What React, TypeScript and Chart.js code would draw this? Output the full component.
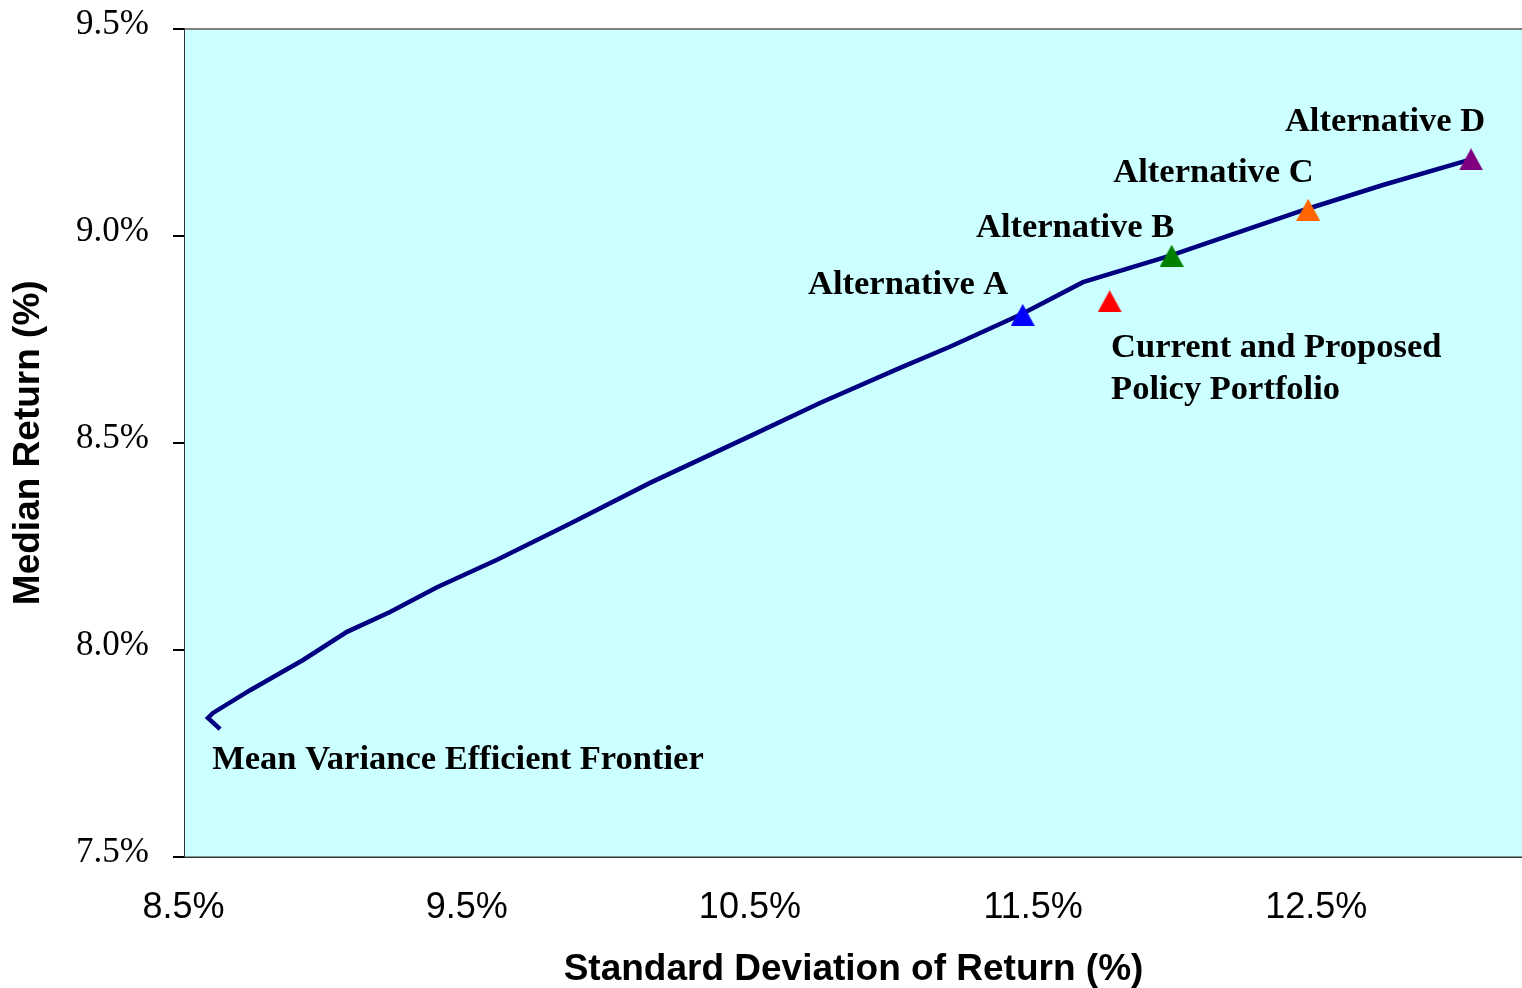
import React, { useEffect, useRef } from "react";
import { Chart, registerables } from "chart.js";
Chart.register(...registerables);

// Efficient frontier curve (std dev %, median return %)
const frontierX = [8.624, 8.581, 8.599, 8.730, 8.917, 9.072, 9.224, 9.390, 9.602, 9.859, 10.142, 10.495, 10.742, 11.025, 11.201, 11.455, 11.671, 11.982, 12.201, 12.462, 12.730, 13.041];
const frontierY = [7.808, 7.835, 7.847, 7.902, 7.975, 8.043, 8.091, 8.151, 8.217, 8.304, 8.403, 8.516, 8.596, 8.681, 8.732, 8.811, 8.888, 8.953, 9.004, 9.065, 9.123, 9.185];

// Portfolios (triangles)
const portfolioNames = ["Alternative A", "Current and Proposed Policy Portfolio", "Alternative B", "Alternative C", "Alternative D"];
const portfolioX = [11.458, 11.765, 11.984, 12.466, 13.041];
const portfolioY = [8.809, 8.842, 8.952, 9.063, 9.185];
const portfolioColors = ["#0000FF", "#FF0000", "#008000", "#FF6600", "#800080"];

// Text labels (left edge, baseline in data units)
const labelTexts = ["Alternative A", "Alternative B", "Alternative C", "Alternative D", "Current and Proposed", "Policy Portfolio", "Mean Variance Efficient Frontier"];
const labelX = [10.700, 11.293, 11.778, 12.384, 11.770, 11.770, 8.596];
const labelY = [8.859, 8.998, 9.131, 9.254, 8.707, 8.606, 7.711];

// Axis ticks
const xTicks = [8.5, 9.5, 10.5, 11.5, 12.5];
const yTicks = [7.5, 8.0, 8.5, 9.0, 9.5];
const xMin = 8.5;
const xMax = 13.221;
const yMin = 7.5;
const yMax = 9.5;

function makeTriangle(color: string): HTMLCanvasElement {
  const c = document.createElement("canvas");
  const w = 24;
  const h = 22;
  c.width = w;
  c.height = h;
  const ctx = c.getContext("2d")!;
  ctx.fillStyle = color;
  ctx.beginPath();
  ctx.moveTo(w / 2, 0);
  ctx.lineTo(w, h);
  ctx.lineTo(0, h);
  ctx.closePath();
  ctx.fill();
  return c;
}

const plotDecor = {
  id: "plotDecor",
  beforeDatasetsDraw(chart: any) {
    const { ctx, chartArea } = chart;
    ctx.save();
    ctx.fillStyle = "#CCFFFF";
    ctx.fillRect(chartArea.left, chartArea.top, chartArea.right - chartArea.left, chartArea.bottom - chartArea.top);
    ctx.restore();
  },
  afterDraw(chart: any) {
    const { ctx, chartArea, scales } = chart;
    ctx.save();
    ctx.strokeStyle = "#808080";
    ctx.lineWidth = 2;
    ctx.beginPath();
    ctx.moveTo(chartArea.left, chartArea.top);
    ctx.lineTo(chartArea.right, chartArea.top);
    ctx.stroke();
    ctx.fillStyle = "#000000";
    ctx.font = "bold 34.5px 'Liberation Serif', 'Times New Roman', serif";
    ctx.textAlign = "left";
    ctx.textBaseline = "alphabetic";
    for (let i = 0; i < labelTexts.length; i++) {
      const px = scales.x.getPixelForValue(labelX[i]);
      const py = scales.y.getPixelForValue(labelY[i]);
      ctx.fillText(labelTexts[i], px, py);
    }
    ctx.restore();
  },
};

export default function App() {
  const ref = useRef<HTMLCanvasElement | null>(null);
  useEffect(() => {
    if (!ref.current) return;
    const triangles = portfolioColors.map(makeTriangle);
    const chart = new Chart(ref.current, {
      type: "scatter",
      data: {
        datasets: [
          {
            label: "Portfolios",
            data: portfolioX.map((x, i) => ({ x, y: portfolioY[i] })),
            pointStyle: triangles as any,
            pointRadius: 12,
            pointHoverRadius: 12,
            showLine: false,
            clip: false,
            order: 0,
          } as any,
          {
            label: "Mean Variance Efficient Frontier",
            data: frontierX.map((x, i) => ({ x, y: frontierY[i] })),
            showLine: true,
            borderColor: "#000080",
            borderWidth: 4.5,
            pointRadius: 0,
            tension: 0,
            fill: false,
            order: 1,
          } as any,
        ],
      },
      options: {
        responsive: false,
        animation: false,
        devicePixelRatio: 1,
        layout: { autoPadding: false, padding: { top: 29, right: 0, left: 0, bottom: 0 } },
        plugins: { legend: { display: false }, tooltip: { enabled: false } },
        scales: {
          x: {
            type: "linear",
            min: xMin,
            max: xMax,
            afterFit: (scale: any) => {
              scale.height = 131.5;
              scale.paddingLeft = 0;
              scale.paddingRight = 0;
              scale.paddingTop = 0;
              scale.paddingBottom = 0;
            },
            afterBuildTicks: (scale: any) => {
              scale.ticks = xTicks.map((v) => ({ value: v }));
            },
            grid: { display: true, drawOnChartArea: false, drawTicks: false },
            border: { display: true, color: "#333333", width: 2 },
            ticks: {
              includeBounds: false,
              padding: 30,
              labelOffset: -1.5,
              color: "#000000",
              font: { family: "'Liberation Sans', Arial, sans-serif", size: 36 },
              callback: (v: any) => Number(v).toFixed(1) + "%",
            },
            title: {
              display: true,
              text: "Standard Deviation of Return (%)",
              color: "#000000",
              font: { family: "'Liberation Sans', Arial, sans-serif", size: 37, weight: "bold", lineHeight: 1 },
              padding: { top: 0, bottom: 0 },
            },
          },
          y: {
            type: "linear",
            min: yMin,
            max: yMax,
            afterFit: (scale: any) => {
              scale.width = 185;
              scale.paddingLeft = 0;
              scale.paddingRight = 0;
              scale.paddingTop = 0;
              scale.paddingBottom = 0;
            },
            afterBuildTicks: (scale: any) => {
              scale.ticks = yTicks.map((v) => ({ value: v }));
            },
            grid: { display: true, drawOnChartArea: false, drawTicks: true, tickLength: 12, color: "#000000", lineWidth: 2 },
            border: { display: true, color: "#333333", width: 2 },
            ticks: {
              includeBounds: false,
              padding: 24,
              labelOffset: -4,
              color: "#000000",
              font: { family: "'Liberation Serif', 'Times New Roman', serif", size: 35 },
              callback: (v: any) => Number(v).toFixed(1) + "%",
            },
            title: {
              display: true,
              text: "Median Return (%)",
              color: "#000000",
              font: { family: "'Liberation Sans', Arial, sans-serif", size: 37, weight: "bold", lineHeight: 1 },
              padding: { top: 10, bottom: 0 },
            },
          },
        },
      } as any,
      plugins: [plotDecor],
    });
    return () => chart.destroy();
  }, []);
  return (
    <div style={{ position: "fixed", left: 0, top: 0, width: 1522, height: 988, overflow: "hidden", background: "#ffffff" }}>
      <canvas ref={ref} width={1522} height={988} style={{ display: "block" }} />
    </div>
  );
}
